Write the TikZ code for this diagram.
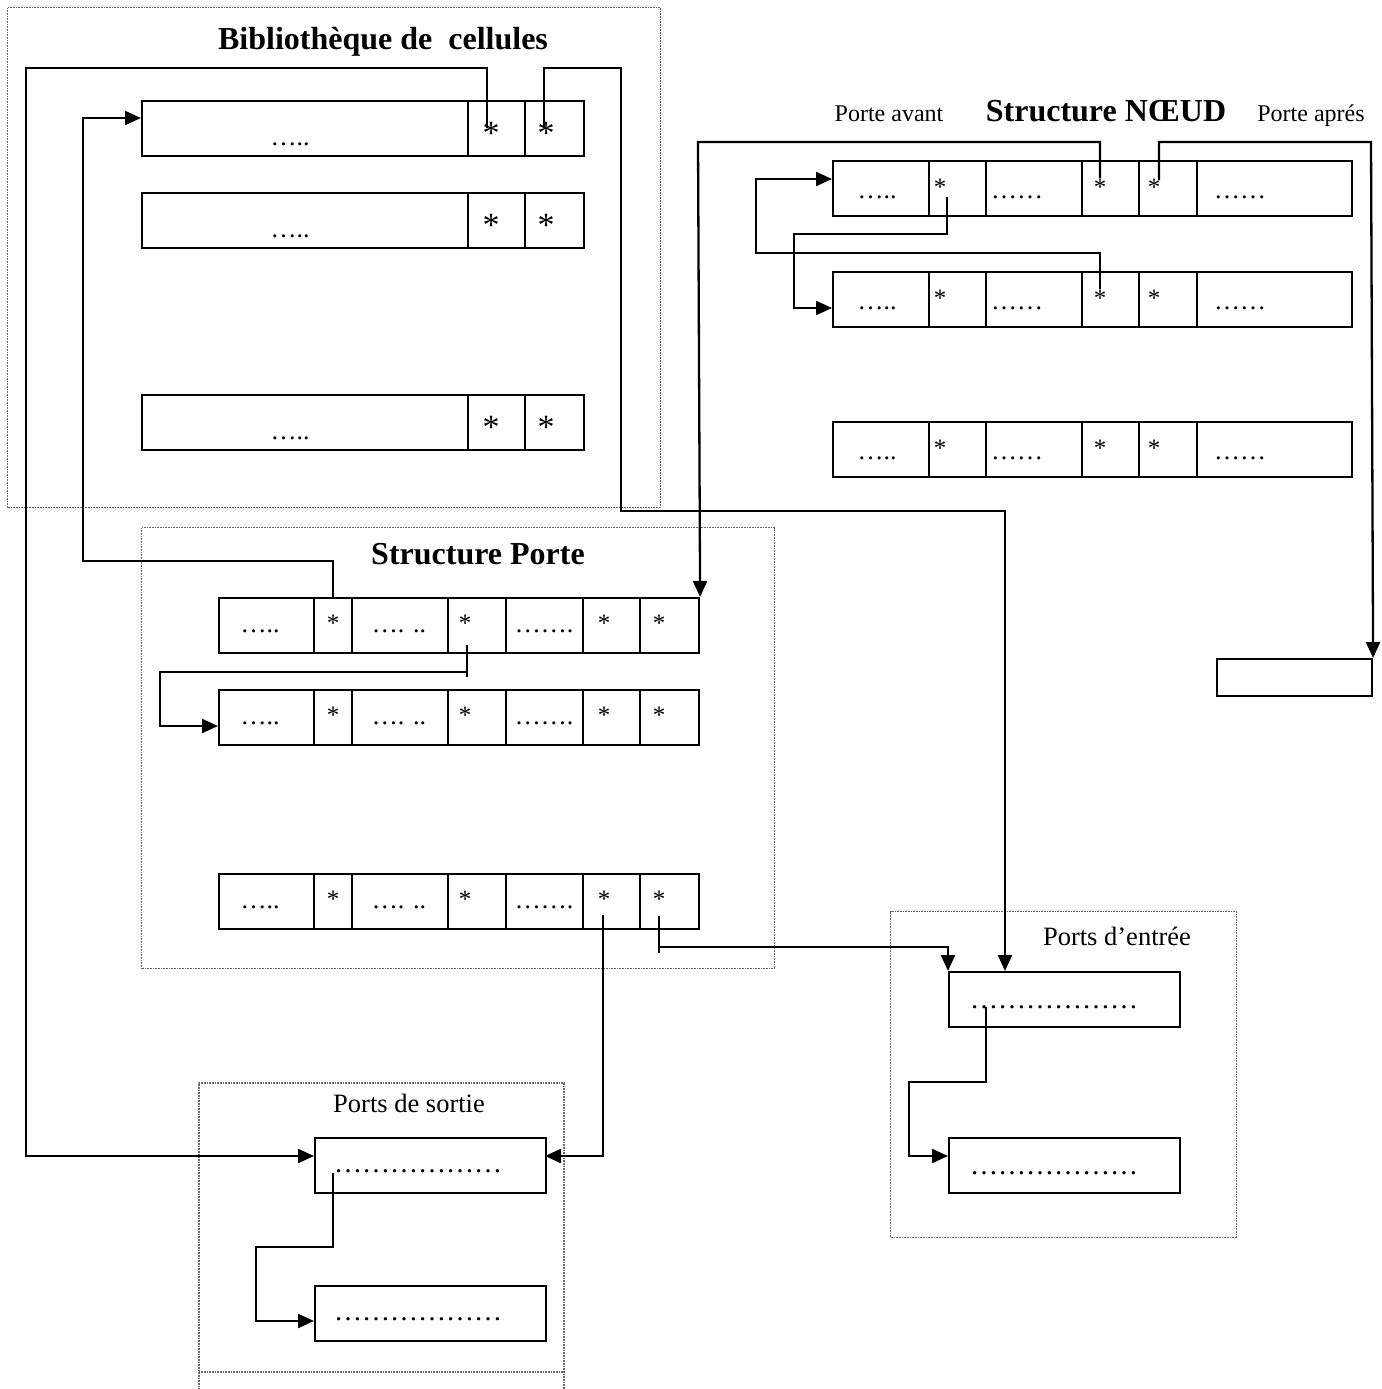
\documentclass[tikz,border=0pt]{standalone}
\usepackage{fontspec}
\setmainfont{Liberation Serif}
\usetikzlibrary{arrows.meta}
\begin{document}
\begin{tikzpicture}[x=1pt,y=-1pt,
  frame/.style={draw=black!60,line width=1.4pt,dash pattern=on 1pt off 0.6pt,inner sep=0pt,anchor=north west},
  framel/.style={draw=black!60,line width=1.4pt,dash pattern=on 1pt off 0.6pt},
  rowbox/.style={draw,line width=2.1pt,inner sep=0pt,anchor=north west,minimum height=55pt},
  portbox/.style={draw,line width=2.1pt,inner sep=0pt,anchor=north west,minimum width=231pt,minimum height=55pt},
  div/.style={line width=1.7pt},
  wire/.style={line width=2pt},
  ptr/.style={line width=2.3pt,-{Triangle[length=16pt,width=14pt]}},
  title/.style={font=\bfseries\fontsize{32}{36}\selectfont,inner sep=0pt,anchor=base},
  lab/.style={font=\fontsize{24}{28}\selectfont,inner sep=0pt,anchor=base},
  plab/.style={font=\fontsize{26.5}{30}\selectfont,inner sep=0pt,anchor=base},
  rdots/.style={font=\fontsize{26}{30}\selectfont,inner sep=0pt,anchor=base},
  pdots/.style={font=\fontsize{28}{30}\selectfont,inner sep=0pt,anchor=base},
  astL/.style={font=\fontsize{34}{36}\selectfont,inner sep=0pt,anchor=base},
  astS/.style={font=\fontsize{25}{28}\selectfont,inner sep=0pt,anchor=base},
]
\useasboundingbox (0,0) rectangle (1381,1389);

% ---------------- Bibliotheque de cellules
\node[frame,minimum width=653pt,minimum height=500pt] (libframe) at (7,7) {};
\node[title] (libtitle) at (383,50) {Bibliothèque de\ \ cellules};
\foreach \i/\yy in {1/100,2/192,3/394}{
  \node[rowbox,minimum width=442pt] (lib\i) at (141,\yy) {};
  \draw[div] (468,\yy) -- (468,\yy+55) (525,\yy) -- (525,\yy+55);
  \node[rdots] (lib\i-d) at (290,\yy+45) {…..};
  \node[astL] (lib\i-a) at (491,\yy+44) {*};
  \node[astL] (lib\i-b) at (546,\yy+44) {*};
}

% ---------------- Structure NOEUD
\node[lab] (pav) at (889,121) {Porte avant};
\node[title] (ndtitle) at (1106,121) {Structure NŒUD};
\node[lab] (pap) at (1311,121) {Porte aprés};
\foreach \i/\yy in {1/160,2/271,3/421}{
  \node[rowbox,minimum width=519pt] (nd\i) at (832,\yy) {};
  \draw[div] (929,\yy) -- (929,\yy+55) (986,\yy) -- (986,\yy+55)
             (1082,\yy) -- (1082,\yy+55) (1139,\yy) -- (1139,\yy+55)
             (1197,\yy) -- (1197,\yy+55);
  \node[rdots] (nd\i-t1) at (877,\yy+38) {…..};
  \node[astS]  (nd\i-t2) at (940,\yy+35) {*};
  \node[rdots] (nd\i-t3) at (1017,\yy+38) {……};
  \node[astS]  (nd\i-t4) at (1100,\yy+35) {*};
  \node[astS]  (nd\i-t5) at (1154,\yy+35) {*};
  \node[rdots] (nd\i-t6) at (1240,\yy+38) {……};
}
\node[draw,line width=2.1pt,inner sep=0pt,anchor=north west,minimum width=155pt,minimum height=37pt] (sbox) at (1216,658) {};

% ---------------- Structure Porte
\node[frame,minimum width=633pt,minimum height=441pt] (poframe) at (141,527) {};
\node[title] (potitle) at (478,564) {Structure Porte};
\foreach \i/\yy in {1/597,2/689,3/873}{
  \node[rowbox,minimum width=480pt] (po\i) at (218,\yy) {};
  \draw[div] (314,\yy) -- (314,\yy+55) (352,\yy) -- (352,\yy+55)
             (448,\yy) -- (448,\yy+55) (506,\yy) -- (506,\yy+55)
             (583,\yy) -- (583,\yy+55) (640,\yy) -- (640,\yy+55);
  \node[rdots] (po\i-t1) at (260,\yy+35) {…..};
  \node[astS]  (po\i-t2) at (333,\yy+34) {*};
  \node[rdots] (po\i-t3) at (399,\yy+35) {…. ..};
  \node[astS]  (po\i-t4) at (465,\yy+34) {*};
  \node[rdots] (po\i-t5) at (544,\yy+35) {…….};
  \node[astS]  (po\i-t6) at (604,\yy+34) {*};
  \node[astS]  (po\i-t7) at (659,\yy+34) {*};
}

% ---------------- Ports d'entree
\node[frame,minimum width=346pt,minimum height=326pt] (peframe) at (890,911) {};
\node[plab] (petitle) at (1117,945) {Ports d’entrée};
\node[portbox] (pe1) at (948,971) {};
\node[pdots] (pe1-t) at (1054,1008) {………………};
\node[portbox] (pe2) at (948,1137) {};
\node[pdots] (pe2-t) at (1054,1174) {………………};

% ---------------- Ports de sortie
\draw[framel] (199,1395) -- (199,1083) -- (564,1083) -- (564,1395);
\draw[framel] (199,1372) -- (564,1372);
\node[plab] (pstitle) at (409,1112) {Ports de sortie};
\node[portbox] (spo1) at (314,1137) {};
\node[pdots] (spo1-t) at (418,1172) {………………};
\node[portbox] (spo2) at (314,1285) {};
\node[pdots] (spo2-t) at (418,1320) {………………};

% ---------------- coordinates
\coordinate (lib1in) at (141,118);
\coordinate (spo1inL) at (314,1156);
\coordinate (spo1inR) at (545,1156);
\coordinate (pe1top) at (1005,971);
\coordinate (nd1in) at (832,179);
\coordinate (nd2in) at (832,308);
\coordinate (po2in) at (218,726);
\coordinate (pe2in) at (948,1156);
\coordinate (spo2in) at (314,1321);
\coordinate (lib1p) at (487,128);
\coordinate (lib1q) at (544,128);
\coordinate (po1p) at (333,597);
\coordinate (po1q) at (467,645);
\coordinate (po3p) at (603,915);
\coordinate (po3q) at (659,916);
\coordinate (nd1p) at (1100,178);
\coordinate (nd1q) at (1159,180);
\coordinate (nd1r) at (947,197);
\coordinate (nd2p) at (1100,289);
\coordinate (pe1p) at (986,1007);
\coordinate (spo1p) at (333,1173);

% ---------------- connectors
\draw[ptr] (lib1p) |- (26,68) |- (spo1inL);
\draw[ptr] (lib1q) |- (621,68) |- (1005,511) -- (pe1top);
\draw[ptr] (po1p) |- (83,561) |- (lib1in);
\draw[ptr] (nd1p) |- (698,142) -- (po1.north east);
\draw[ptr] (nd1q) |- (1371,142) -- (sbox.north east);
\draw[ptr] (nd1r) |- (794,234) |- (nd2in);
\draw[ptr] (nd2p) |- (756,253) |- (nd1in);
\draw[ptr] (po1q) |- (160,672) |- (po2in);
\draw[wire] (467,670) -- (467,677);
\draw[ptr] (po3p) |- (spo1inR);
\draw[wire] (po3q) -- (659,953);
\draw[ptr] (659,947) -| (pe1.north west);
\draw[ptr] (pe1p) |- (909,1082) |- (pe2in);
\draw[ptr] (spo1p) |- (256,1247) |- (spo2in);
\end{tikzpicture}
\end{document}
